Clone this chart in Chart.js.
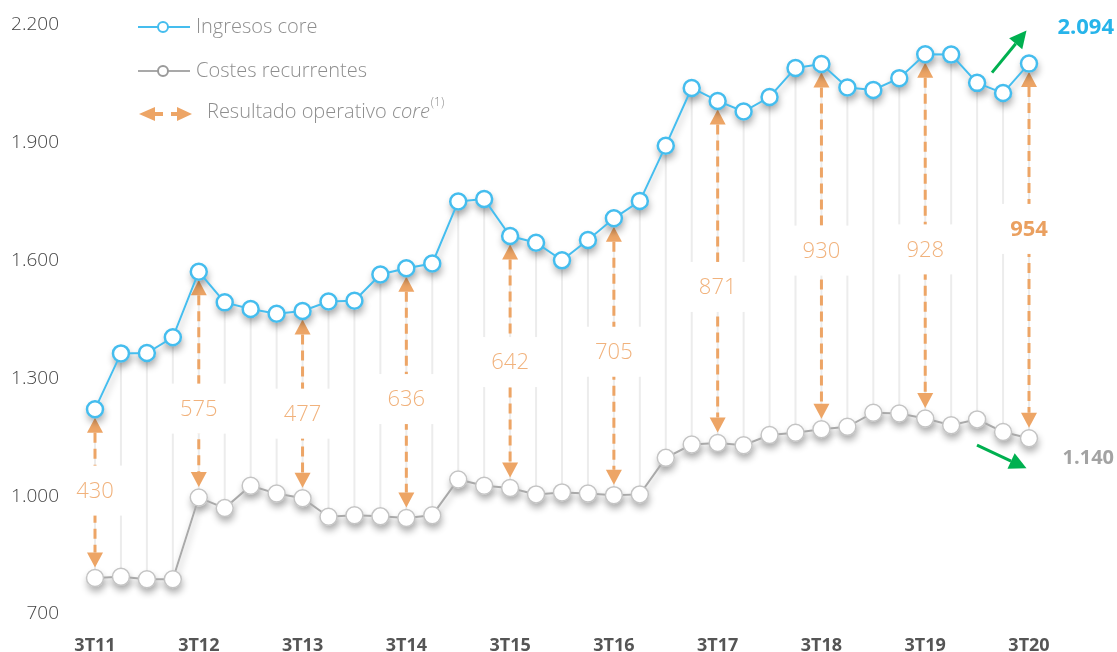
<!DOCTYPE html>
<html>
<head>
<meta charset="utf-8">
<script src="https://cdn.jsdelivr.net/npm/chart.js@4.4.1/dist/chart.umd.min.js"></script>
<style>
  html, body { margin: 0; padding: 0; background: #ffffff; }
  #wrap { width: 1117px; height: 652px; position: relative; }
  canvas { display: block; }
</style>
</head>
<body>
<div id="wrap"><canvas id="c" width="1117" height="652"></canvas></div>
<script>
// ---------- DATA ----------
const categories = [
  "3T11","4T11","1T12","2T12","3T12","4T12","1T13","2T13","3T13","4T13",
  "1T14","2T14","3T14","4T14","1T15","2T15","3T15","4T15","1T16","2T16",
  "3T16","4T16","1T17","2T17","3T17","4T17","1T18","2T18","3T18","4T18",
  "1T19","2T19","3T19","4T19","1T20","2T20","3T20"
];
const ingresosCore = [
  1214, 1356, 1357, 1397, 1564, 1486, 1469, 1457, 1464, 1488,
  1490, 1557, 1573, 1585, 1743, 1749, 1655, 1638, 1593, 1645,
  1700, 1744, 1885, 2032, 1999, 1972, 2009, 2083, 2093, 2033,
  2027, 2057, 2118, 2117, 2045, 2019, 2094
];
const costesRecurrentes = [
  784, 787, 781, 781, 989, 962, 1019, 999, 987, 940,
  944, 941, 937, 944, 1035, 1019, 1013, 997, 1002, 999,
  995, 997, 1090, 1124, 1128, 1122, 1148, 1154, 1163, 1169,
  1205, 1203, 1190, 1173, 1188, 1156, 1140
];
const resultadoPeriodos = ["3T11","3T12","3T13","3T14","3T15","3T16","3T17","3T18","3T19","3T20"];
const resultadoOperativo = [430, 575, 477, 636, 642, 705, 871, 930, 928, 954];
const yTickValues = [700, 1000, 1300, 1600, 1900, 2200];
const seriesNames = ["Ingresos core", "Costes recurrentes", "Resultado operativo ", "core", "(1)"];

// ---------- STYLE ----------
const BLUE = '#45bdee';
const GRAY_LINE = '#a9a9a9';
const GRAY_PT = '#c4c4c4';
const ORANGE = '#eda566';
const ORANGE_TXT = '#f1b27c';
const GREEN = '#00b050';
const FONT = "'Open Sans', 'DejaVu Sans', sans-serif";
const AREA_TOP = 22, AREA_BOTTOM = 611;
let xAxisHeight = 41;

const fmt = v => String(v).replace(/\B(?=(\d{3})+(?!\d))/g, '.');

function tri(ctx, x, tipY, hw, hl, dir) {
  ctx.beginPath();
  ctx.moveTo(x, tipY);
  ctx.lineTo(x - hw, tipY + dir * hl);
  ctx.lineTo(x + hw, tipY + dir * hl);
  ctx.closePath();
  ctx.fill();
}

function arrow(ctx, x1, y1, x2, y2, color, hl, hw) {
  const ang = Math.atan2(y2 - y1, x2 - x1);
  const bx = x2 - Math.cos(ang) * hl, by = y2 - Math.sin(ang) * hl;
  ctx.strokeStyle = color; ctx.fillStyle = color; ctx.lineWidth = 3;
  ctx.beginPath(); ctx.moveTo(x1, y1); ctx.lineTo(bx, by); ctx.stroke();
  ctx.beginPath();
  ctx.moveTo(x2, y2);
  ctx.lineTo(bx + Math.sin(ang) * hw, by - Math.cos(ang) * hw);
  ctx.lineTo(bx - Math.sin(ang) * hw, by + Math.cos(ang) * hw);
  ctx.closePath(); ctx.fill();
}

// soft drop shadows under the lines and markers (drawn before the datasets)
const shadowPlugin = {
  id: 'shadowPlugin',
  beforeDatasetsDraw(chart) {
    const ctx = chart.ctx;
    ctx.save();
    ctx.shadowColor = 'rgba(0,0,0,0.30)';
    ctx.shadowBlur = 7;
    ctx.shadowOffsetX = 1;
    ctx.shadowOffsetY = 5;
    chart.data.datasets.forEach((ds, d) => {
      const pts = chart.getDatasetMeta(d).data;
      ctx.strokeStyle = '#ffffff';
      ctx.lineWidth = 2;
      ctx.beginPath();
      pts.forEach((p, i) => { if (i === 0) ctx.moveTo(p.x, p.y); else ctx.lineTo(p.x, p.y); });
      ctx.stroke();
      ctx.fillStyle = '#ffffff';
      pts.forEach(p => {
        ctx.beginPath();
        ctx.arc(p.x, p.y, 9, 0, Math.PI * 2);
        ctx.fill();
      });
    });
    ctx.restore();
  }
};

const overlayPlugin = {
  id: 'overlay',
  beforeDatasetsDraw(chart, args, opts) {
    const { ctx, scales: { x, y } } = chart;
    ctx.save();
    ctx.strokeStyle = '#ececec';
    ctx.lineWidth = 2;
    ingresosCore.forEach((v, i) => {
      const px = x.getPixelForValue(i);
      ctx.beginPath();
      ctx.moveTo(px, y.getPixelForValue(v));
      ctx.lineTo(px, y.getPixelForValue(costesRecurrentes[i]));
      ctx.stroke();
    });
    resultadoPeriodos.forEach((p, k) => {
      const i = categories.indexOf(p);
      const px = x.getPixelForValue(i);
      const yT = y.getPixelForValue(ingresosCore[i]) + 8.5;
      const yB = y.getPixelForValue(costesRecurrentes[i]) - 10.5;
      const hl = 15, hw = 8;
      ctx.fillStyle = ORANGE;
      tri(ctx, px, yT, hw, hl, 1);
      tri(ctx, px, yB, hw, hl, -1);
      ctx.strokeStyle = ORANGE;
      ctx.lineWidth = 3;
      ctx.setLineDash([10, 6]);
      ctx.beginPath();
      ctx.moveTo(px, yT + hl);
      ctx.lineTo(px, yB - hl);
      ctx.stroke();
      ctx.setLineDash([]);
      const cy = (yT + yB) / 2 + opts.labelShift[k];
      ctx.fillStyle = '#ffffff';
      ctx.fillRect(px - 35, cy - 25, 70, 50);
      const last = k === resultadoPeriodos.length - 1;
      ctx.font = (last ? 'bold ' : '300 ') + '22px ' + FONT;
      ctx.fillStyle = last ? '#eaa060' : ORANGE_TXT;
      ctx.textAlign = 'center';
      ctx.textBaseline = 'middle';
      ctx.fillText(String(resultadoOperativo[k]), px, cy + 1);
    });
    ctx.restore();
  },
  afterDraw(chart) {
    const { ctx, scales: { x, y } } = chart;
    ctx.save();
    const lx1 = 138, lx2 = 190, lcx = 163;
    const rows = [
      { y: 27, color: BLUE, pt: BLUE, text: seriesNames[0] },
      { y: 71, color: GRAY_LINE, pt: '#9a9a9a', text: seriesNames[1] }
    ];
    rows.forEach(r => {
      ctx.strokeStyle = r.color; ctx.lineWidth = 2;
      ctx.beginPath(); ctx.moveTo(lx1, r.y); ctx.lineTo(lx2, r.y); ctx.stroke();
      ctx.fillStyle = '#fff'; ctx.strokeStyle = r.pt; ctx.lineWidth = 2;
      ctx.beginPath(); ctx.arc(lcx, r.y, 5, 0, Math.PI * 2); ctx.fill(); ctx.stroke();
      ctx.font = '300 20px ' + FONT; ctx.fillStyle = '#8e8e8e';
      ctx.textAlign = 'left'; ctx.textBaseline = 'middle';
      ctx.fillText(r.text, 196, r.y);
    });
    const ay = 114;
    ctx.fillStyle = ORANGE;
    ctx.beginPath(); ctx.moveTo(139, ay); ctx.lineTo(155, ay - 7); ctx.lineTo(155, ay + 7); ctx.closePath(); ctx.fill();
    ctx.fillRect(155, ay - 2, 8, 4);
    ctx.fillRect(171, ay - 2, 8, 4);
    ctx.beginPath(); ctx.moveTo(192, ay); ctx.lineTo(177, ay - 7); ctx.lineTo(177, ay + 7); ctx.closePath(); ctx.fill();
    ctx.fillStyle = '#8e8e8e'; ctx.textAlign = 'left'; ctx.textBaseline = 'middle';
    ctx.font = '300 20px ' + FONT;
    let tx = 207;
    ctx.fillText(seriesNames[2], tx, ay - 2); tx += ctx.measureText(seriesNames[2]).width;
    ctx.font = 'italic 300 20px ' + FONT;
    ctx.fillText(seriesNames[3], tx, ay - 2); tx += ctx.measureText(seriesNames[3]).width;
    ctx.font = '300 12px ' + FONT;
    ctx.fillText(seriesNames[4], tx + 1, ay - 11);

    const n = categories.length - 1;
    const xl = x.getPixelForValue(n);
    const yb = y.getPixelForValue(ingresosCore[n]);
    const yg = y.getPixelForValue(costesRecurrentes[n]);
    arrow(ctx, xl - 37, yb + 9, xl - 2.5, yb - 33, GREEN, 17, 8.5);
    arrow(ctx, xl - 52, yg + 7, xl - 2.5, yg + 30, GREEN, 17, 8.5);
    ctx.textAlign = 'right'; ctx.textBaseline = 'middle';
    ctx.font = 'bold 22px ' + FONT; ctx.fillStyle = '#27b4ea';
    ctx.fillText(fmt(ingresosCore[n]), 1114, yb - 36);
    ctx.font = 'bold 20px ' + FONT; ctx.fillStyle = '#a3a3a3';
    ctx.fillText(fmt(costesRecurrentes[n]), 1114, yg + 20);
    ctx.restore();
  }
};

const chart = new Chart(document.getElementById('c'), {
  type: 'line',
  data: {
    labels: categories,
    datasets: [
      {
        label: seriesNames[0], data: ingresosCore,
        borderColor: BLUE, borderWidth: 2, tension: 0,
        pointRadius: 8, pointBackgroundColor: '#ffffff',
        pointBorderColor: BLUE, pointBorderWidth: 2.5, clip: false
      },
      {
        label: seriesNames[1], data: costesRecurrentes,
        borderColor: GRAY_LINE, borderWidth: 2, tension: 0,
        pointRadius: 8.5, pointBackgroundColor: '#ffffff',
        pointBorderColor: GRAY_PT, pointBorderWidth: 1.5, clip: false
      }
    ]
  },
  options: {
    responsive: false,
    animation: false,
    devicePixelRatio: 1,
    layout: { padding: { left: 0, right: 88, top: AREA_TOP, bottom: 0 } },
    plugins: {
      legend: { display: false },
      tooltip: { enabled: false },
      overlay: { labelShift: [-2, 25, 10, 7, 1, -4, 16, 5, 14, -21] }
    },
    scales: {
      x: {
        type: 'category', offset: false,
        grid: { display: false, drawTicks: false },
        border: { display: false },
        ticks: {
          autoSkip: false, maxRotation: 0, minRotation: 0, padding: 24,
          color: '#555555', font: { family: FONT, size: 18, weight: 'bold' },
          callback: (v, i) => categories[i].startsWith('3T') ? categories[i] : ''
        },
        afterFit: s => { s.height = xAxisHeight; s.paddingLeft = 0; s.paddingRight = 0; }
      },
      y: {
        min: 700, max: 2200,
        afterBuildTicks: s => { s.ticks = yTickValues.map(v => ({ value: v })); },
        grid: { display: false, drawTicks: false },
        border: { display: false },
        ticks: {
          padding: 36, labelOffset: 3, color: '#444444',
          font: { family: FONT, size: 19, weight: '300' },
          callback: v => fmt(v)
        },
        afterFit: s => { s.width = 95; s.paddingTop = 0; s.paddingBottom = 0; }
      }
    }
  },
  plugins: [overlayPlugin, shadowPlugin]
});

// make sure the plot area spans exactly the intended vertical range
const ca = chart.chartArea;
if (Math.abs(ca.top - AREA_TOP) > 0.5 || Math.abs(ca.bottom - AREA_BOTTOM) > 0.5) {
  chart.options.layout.padding.top += AREA_TOP - ca.top;
  xAxisHeight += ca.bottom - AREA_BOTTOM;
  chart.update();
}
</script>
</body>
</html>
